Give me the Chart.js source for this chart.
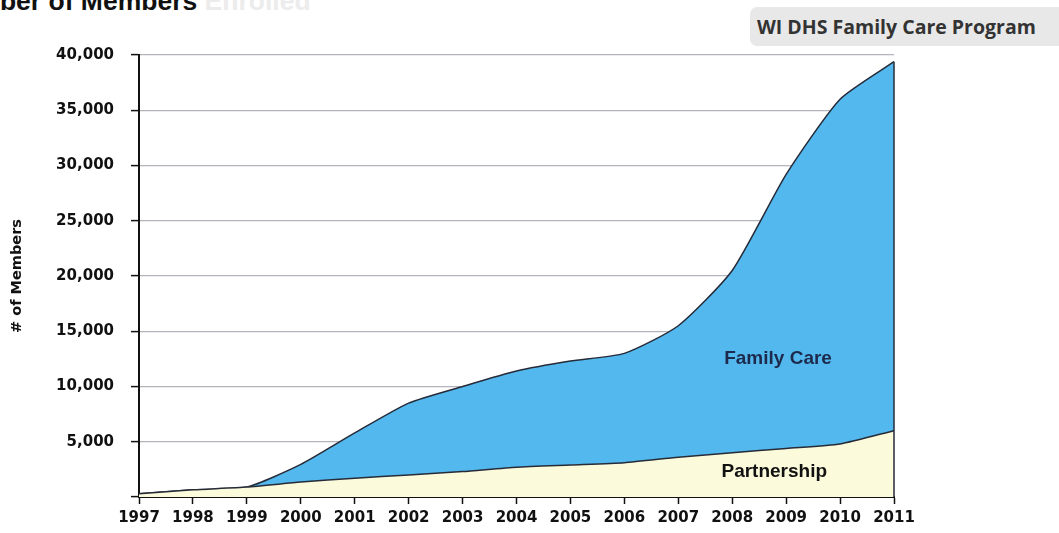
<!DOCTYPE html>
<html lang="en">
<head>
    <meta charset="UTF-8">
    <title>Family Care Members</title>
    <script src="https://cdn.jsdelivr.net/npm/chart.js"></script>
    <style>
        body {
            margin: 0;
            background: #fff;
            width: 1059px;
            height: 533px;
            position: relative;
            overflow: hidden;
            font-family: 'DejaVu Sans', sans-serif;
        }
        .page-title {
            position: absolute;
            left: -59px;
            top: -12px;
            font: bold 26.5px 'Liberation Sans', Arial, sans-serif;
            line-height: 26px;
            color: #111;
            white-space: nowrap;
        }
        .page-title span { color: #ececec; }
        .badge {
            position: absolute;
            left: 750px;
            top: 7px;
            width: 320px;
            height: 39px;
            background: #e8e8e8;
            border-radius: 7px;
            box-sizing: border-box;
            padding: 6px 0 0 7px;
            font: bold 19.5px 'Open Sans', sans-serif;
            color: #333;
            white-space: nowrap;
        }
        #wrap {
            position: absolute;
            left: 0;
            top: 0;
            width: 1059px;
            height: 533px;
        }
    </style>
</head>
<body>
    <div class="page-title">Number of Members<span> Enrolled</span></div>
    <div class="badge">WI DHS Family Care Program</div>
    <div id="wrap"><canvas id="members"></canvas></div>

    <script>
        // data
        const years = ['1997', '1998', '1999', '2000', '2001', '2002', '2003', '2004',
                       '2005', '2006', '2007', '2008', '2009', '2010', '2011'];
        const partnership = [300, 650, 900, 1350, 1700, 2000, 2300, 2700, 2900, 3100, 3600, 4000, 4400, 4800, 6000];
        const familyCare  = [0, 0, 0, 1600, 4100, 6500, 7700, 8700, 9400, 9900, 11900, 16500, 24800, 31200, 33400];
        const yTicks = [0, 5000, 10000, 15000, 20000, 25000, 30000, 35000, 40000];

        const outline = '#262b38';

        // area labels and the closing edge at 2011
        const areaLabels = {
            id: 'areaLabels',
            afterDatasetsDraw(chart) {
                const { ctx, scales: { x, y } } = chart;
                const last = years.length - 1;
                const top = partnership[last] + familyCare[last];
                ctx.save();
                ctx.strokeStyle = outline;
                ctx.lineWidth = 1.5;
                ctx.beginPath();
                ctx.moveTo(x.getPixelForValue(last), y.getPixelForValue(top));
                ctx.lineTo(x.getPixelForValue(last), y.getPixelForValue(0));
                ctx.stroke();

                ctx.textAlign = 'center';
                ctx.textBaseline = 'middle';
                ctx.font = 'bold 19px "Liberation Sans", Arial, sans-serif';
                ctx.fillStyle = '#1d2a4c';
                ctx.fillText('Family Care', x.getPixelForValue(11.85), y.getPixelForValue(12500));
                ctx.fillStyle = '#111';
                ctx.fillText('Partnership', x.getPixelForValue(11.78), y.getPixelForValue(2300));
                ctx.restore();
            }
        };

        new Chart(document.getElementById('members'), {
            type: 'line',
            data: {
                labels: years,
                datasets: [{
                    label: 'Partnership',
                    data: partnership,
                    backgroundColor: '#fbfadb',
                    borderColor: outline,
                    borderWidth: 1.5,
                    fill: 'origin',
                    pointRadius: 0,
                    tension: 0.2
                }, {
                    label: 'Family Care',
                    data: familyCare,
                    backgroundColor: '#52b8ee',
                    borderColor: outline,
                    borderWidth: 1.5,
                    fill: '-1',
                    pointRadius: 0,
                    tension: 0.2
                }]
            },
            options: {
                responsive: true,
                maintainAspectRatio: false,
                animation: false,
                layout: { padding: { top: 55, right: 165, left: 0, bottom: 0 } },
                plugins: {
                    legend: { display: false },
                    tooltip: { enabled: false }
                },
                scales: {
                    x: {
                        offset: false,
                        grid: {
                            drawOnChartArea: false,
                            tickLength: 7,
                            tickColor: '#111',
                            tickWidth: 1.5
                        },
                        border: { color: '#111', width: 2 },
                        ticks: {
                            color: '#111',
                            padding: 5,
                            maxRotation: 0,
                            font: { family: 'DejaVu Sans', size: 15, weight: 'bold' }
                        },
                        afterFit(scale) { scale.height = 36; }
                    },
                    y: {
                        stacked: true,
                        min: 0,
                        max: 40000,
                        afterBuildTicks(scale) { scale.ticks = yTicks.map(v => ({ value: v })); },
                        grid: {
                            color: ctx => ctx.tick && ctx.tick.value === 0 ? 'rgba(0,0,0,0)' : '#b4b4bc',
                            lineWidth: 1.2,
                            tickLength: 8,
                            tickColor: '#111',
                            tickWidth: 1.5
                        },
                        border: { color: '#111', width: 2 },
                        ticks: {
                            color: '#111',
                            padding: 17,
                            font: { family: 'DejaVu Sans', size: 15, weight: 'bold' },
                            callback: v => v === 0 ? '' : v.toLocaleString('en-US')
                        },
                        title: {
                            display: true,
                            text: '# of Members',
                            color: '#111',
                            padding: { top: 9, bottom: 0 },
                            font: { family: 'DejaVu Sans', size: 14.5, weight: 'bold' }
                        },
                        afterFit(scale) { scale.width = 139; }
                    }
                }
            },
            plugins: [areaLabels]
        });
    </script>
</body>
</html>
